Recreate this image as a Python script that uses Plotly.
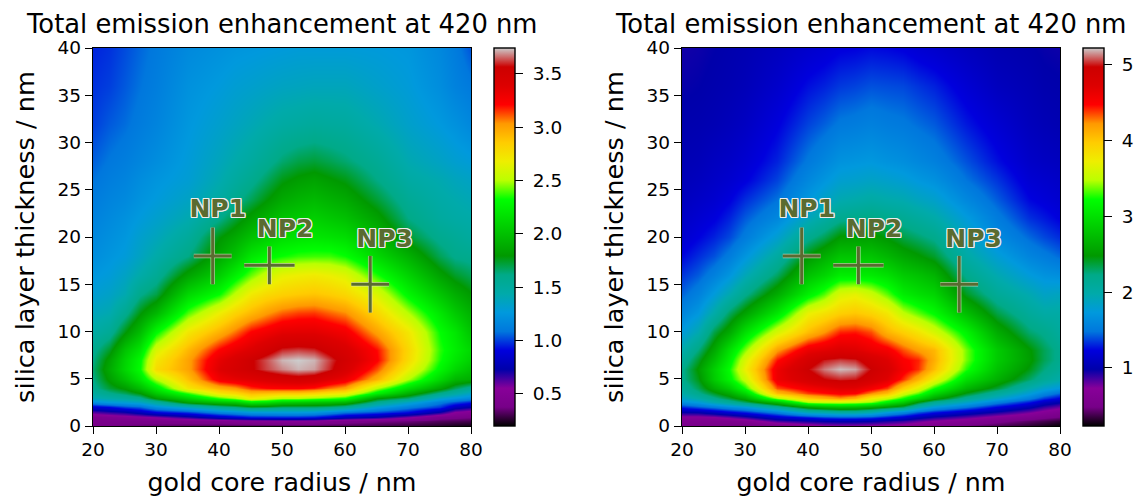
import plotly.graph_objects as go

radius = [20, 22.5, 25, 27.5, 30, 35, 40, 42.5, 45, 47.5, 50, 52.5, 55, 57.5, 60, 65, 70, 75, 77.5, 80]
thickness = [0, .5, 1, 1.5, 2, 2.5, 3, 3.5, 4, 5, 6, 7, 8, 10, 12, 14, 16, 18, 20, 22, 24, 26, 28, 32, 36, 40]

# one list per gold core radius, values run along `thickness`
left_r20 = [.38,.41,.44,.63,.85,1.2,1.4,1.5,1.58,1.62,1.65,1.62,1.58,1.47,1.38,1.3,1.25,1.2,1.17,1.14,1.11,1.08,1.05,1.0,.98,.96]
left_r22 = [.37,.41,.47,.68,.91,1.27,1.45,1.6,1.72,1.82,1.88,1.84,1.74,1.55,1.42,1.34,1.28,1.24,1.21,1.18,1.15,1.12,1.09,1.04,1.0,.98]
left_r25 = [.36,.4,.5,.72,1.0,1.3,1.5,1.68,1.82,2.0,2.12,2.1,2.02,1.78,1.58,1.42,1.35,1.28,1.25,1.22,1.18,1.15,1.12,1.07,1.04,1.02]
left_r27 = [.35,.4,.53,.8,1.05,1.35,1.58,1.8,1.98,2.2,2.32,2.3,2.2,1.98,1.78,1.6,1.45,1.36,1.32,1.27,1.23,1.2,1.16,1.11,1.08,1.06]
left_r30 = [.34,.4,.57,.91,1.2,1.5,1.82,2.05,2.22,2.5,2.78,2.72,2.6,2.3,1.95,1.7,1.55,1.45,1.38,1.32,1.27,1.24,1.2,1.15,1.12,1.1]
left_r35 = [.32,.42,.68,1.0,1.36,1.85,2.1,2.38,2.72,2.9,3.0,3.0,2.93,2.72,2.4,2.12,1.85,1.62,1.52,1.42,1.35,1.3,1.28,1.25,1.22,1.18]
left_r40 = [.3,.45,.82,1.15,1.55,2.0,2.37,2.72,2.95,3.28,3.38,3.34,3.22,2.95,2.68,2.32,2.07,1.88,1.78,1.6,1.48,1.42,1.38,1.32,1.27,1.22]
left_r42 = [.3,.47,.88,1.2,1.62,2.05,2.48,2.8,3.02,3.34,3.47,3.44,3.32,3.08,2.82,2.52,2.25,2.02,1.88,1.72,1.58,1.5,1.44,1.36,1.3,1.24]
left_r45 = [.3,.48,.94,1.26,1.72,2.22,2.69,2.92,3.15,3.38,3.55,3.55,3.4,3.22,2.93,2.7,2.42,2.2,2.0,1.84,1.68,1.58,1.5,1.4,1.32,1.25]
left_r47 = [.3,.49,.95,1.27,1.7,2.18,2.6,2.9,3.2,3.43,3.62,3.63,3.5,3.28,3.02,2.78,2.55,2.28,2.07,1.93,1.78,1.67,1.57,1.44,1.34,1.26]
left_r50 = [.3,.5,.96,1.27,1.65,2.08,2.5,2.87,3.22,3.47,3.68,3.72,3.6,3.35,3.1,2.83,2.65,2.33,2.15,2.02,1.88,1.77,1.65,1.48,1.36,1.27]
left_r52 = [.3,.5,.96,1.27,1.65,2.05,2.5,2.87,3.22,3.5,3.72,3.74,3.62,3.36,3.14,2.86,2.68,2.37,2.18,2.05,1.93,1.82,1.7,1.5,1.37,1.28]
left_r55 = [.3,.49,.94,1.25,1.65,2.02,2.45,2.82,3.18,3.47,3.7,3.72,3.6,3.36,3.15,2.88,2.7,2.38,2.2,2.08,1.96,1.85,1.72,1.52,1.38,1.28]
left_r57 = [.3,.45,.88,1.18,1.62,2.0,2.4,2.75,3.08,3.38,3.6,3.62,3.52,3.32,3.1,2.85,2.67,2.38,2.18,2.04,1.92,1.81,1.69,1.51,1.38,1.28]
left_r60 = [.3,.42,.8,1.1,1.55,1.95,2.33,2.69,3.0,3.3,3.45,3.5,3.44,3.27,3.05,2.8,2.62,2.33,2.15,2.0,1.88,1.77,1.65,1.5,1.38,1.28]
left_r65 = [.29,.38,.72,1.02,1.28,1.58,1.82,2.25,2.5,2.95,3.12,3.22,3.2,3.0,2.8,2.6,2.35,2.12,1.96,1.84,1.72,1.62,1.55,1.42,1.33,1.27]
left_r70 = [.27,.36,.58,.92,1.12,1.35,1.65,1.92,2.15,2.5,2.68,2.78,2.8,2.72,2.5,2.28,2.1,1.92,1.73,1.62,1.55,1.48,1.42,1.33,1.28,1.25]
left_r75 = [.25,.32,.42,.72,.98,1.12,1.33,1.6,1.85,2.12,2.28,2.34,2.36,2.32,2.2,2.02,1.84,1.68,1.58,1.5,1.46,1.42,1.35,1.26,1.2,1.17]
left_r77 = [.23,.31,.4,.55,.8,1.03,1.24,1.48,1.68,1.95,2.12,2.2,2.24,2.2,2.05,1.9,1.74,1.6,1.54,1.47,1.43,1.38,1.31,1.22,1.14,1.11]
left_r80 = [.22,.3,.38,.5,.72,.95,1.17,1.35,1.55,1.9,2.0,2.08,2.12,2.02,1.92,1.8,1.68,1.58,1.5,1.45,1.4,1.35,1.28,1.17,1.1,1.03]

right_r20 = [.55,.6,.7,.98,1.3,1.65,1.85,2.0,2.1,2.2,2.2,2.1,1.98,1.75,1.58,1.44,1.34,1.24,1.16,1.12,1.08,1.05,1.03,1.0,.97,.95]
right_r22 = [.52,.58,.7,1.0,1.4,1.75,2.0,2.2,2.32,2.44,2.5,2.4,2.25,1.95,1.72,1.55,1.42,1.32,1.23,1.17,1.12,1.08,1.05,1.01,.98,.96]
right_r25 = [.48,.56,.73,1.1,1.5,1.95,2.2,2.42,2.62,2.85,2.88,2.75,2.6,2.35,2.0,1.75,1.55,1.4,1.3,1.22,1.16,1.12,1.09,1.03,1.0,.98]
right_r27 = [.46,.56,.8,1.2,1.62,2.1,2.38,2.62,2.85,3.15,3.22,3.12,3.0,2.6,2.3,1.95,1.7,1.52,1.38,1.3,1.22,1.16,1.12,1.06,1.02,1.0]
right_r30 = [.44,.6,.9,1.3,1.72,2.3,2.62,2.95,3.25,3.55,3.72,3.62,3.4,3.0,2.55,2.2,1.92,1.7,1.52,1.42,1.32,1.22,1.17,1.1,1.05,1.02]
right_r35 = [.5,.85,1.15,1.55,2.1,2.75,3.45,4.05,4.35,4.6,4.6,4.45,4.2,3.6,3.05,2.62,2.3,2.05,1.8,1.6,1.47,1.37,1.3,1.22,1.14,1.08]
right_r40 = [.62,.95,1.3,1.92,2.55,3.45,3.98,4.38,4.55,4.85,4.97,4.85,4.62,4.05,3.7,3.12,2.78,2.48,2.18,1.9,1.72,1.6,1.5,1.37,1.26,1.15]
right_r42 = [.7,.98,1.38,1.97,2.68,3.52,4.1,4.45,4.62,4.97,5.12,5.0,4.68,4.22,3.82,3.33,2.92,2.64,2.32,2.04,1.84,1.7,1.59,1.43,1.3,1.18]
right_r45 = [.72,1.0,1.42,2.05,2.75,3.55,4.22,4.52,4.7,5.02,5.2,5.05,4.75,4.42,3.95,3.62,3.1,2.8,2.5,2.18,1.95,1.8,1.68,1.5,1.35,1.22]
right_r47 = [.72,1.0,1.42,2.05,2.72,3.5,4.1,4.5,4.68,5.0,5.17,5.02,4.72,4.44,4.0,3.68,3.1,2.8,2.52,2.22,1.98,1.82,1.7,1.52,1.37,1.23]
right_r50 = [.7,.98,1.38,1.95,2.6,3.4,3.75,4.25,4.55,4.85,4.97,4.85,4.62,4.35,3.92,3.55,3.08,2.8,2.53,2.25,2.02,1.85,1.72,1.55,1.4,1.25]
right_r52 = [.68,.93,1.28,1.75,2.45,3.1,3.55,4.05,4.38,4.7,4.8,4.72,4.55,4.1,3.78,3.35,3.0,2.7,2.46,2.2,1.98,1.82,1.68,1.52,1.39,1.24]
right_r55 = [.65,.88,1.18,1.6,2.3,2.85,3.25,3.6,3.95,4.4,4.55,4.5,4.35,3.95,3.5,3.1,2.85,2.58,2.35,2.15,1.95,1.78,1.65,1.5,1.38,1.22]
right_r57 = [.6,.8,1.05,1.42,1.95,2.45,2.95,3.35,3.65,4.1,4.4,4.42,4.2,3.8,3.35,3.0,2.78,2.5,2.28,2.08,1.88,1.72,1.6,1.46,1.34,1.18]
right_r60 = [.55,.72,.95,1.28,1.72,2.15,2.6,2.95,3.25,3.72,4.05,4.12,4.08,3.6,3.2,2.92,2.68,2.4,2.2,2.0,1.82,1.67,1.55,1.42,1.3,1.15]
right_r65 = [.45,.62,.82,1.1,1.48,1.85,2.15,2.45,2.7,3.0,3.28,3.38,3.38,3.15,2.75,2.42,2.2,2.02,1.88,1.75,1.6,1.48,1.4,1.28,1.18,1.08]
right_r70 = [.38,.52,.68,.95,1.22,1.55,1.85,2.1,2.38,2.65,2.78,2.85,2.85,2.62,2.35,2.12,1.95,1.78,1.62,1.52,1.42,1.34,1.26,1.17,1.08,1.02]
right_r75 = [.32,.42,.58,.78,1.02,1.28,1.55,1.78,1.98,2.3,2.45,2.52,2.5,2.28,2.1,1.95,1.75,1.58,1.45,1.33,1.24,1.18,1.13,1.07,1.03,.99]
right_r77 = [.28,.38,.52,.68,.88,1.1,1.35,1.6,1.82,2.12,2.25,2.32,2.32,2.2,2.02,1.85,1.68,1.52,1.38,1.28,1.2,1.15,1.1,1.04,1.0,.97]
right_r80 = [.24,.33,.47,.6,.78,1.0,1.22,1.45,1.72,2.0,2.12,2.18,2.18,2.08,2.02,1.88,1.65,1.45,1.32,1.22,1.16,1.12,1.08,1.02,.99,.96]

left_columns = [left_r20, left_r22, left_r25, left_r27, left_r30, left_r35, left_r40, left_r42, left_r45, left_r47,
                left_r50, left_r52, left_r55, left_r57, left_r60, left_r65, left_r70, left_r75, left_r77, left_r80]
right_columns = [right_r20, right_r22, right_r25, right_r27, right_r30, right_r35, right_r40, right_r42, right_r45, right_r47,
                 right_r50, right_r52, right_r55, right_r57, right_r60, right_r65, right_r70, right_r75, right_r77, right_r80]
left_values = [list(row) for row in zip(*left_columns)]
right_values = [list(row) for row in zip(*right_columns)]

np_labels = ["NP1", "NP2", "NP3"]
np_radius = [39, 48, 64]
np_thickness = [18, 17, 15]
np_radius_err = [3, 4, 3]
np_thickness_err = [3, 2, 3]
label_x = [39.8, 50.5, 66.3]
label_y = [22.8, 20.7, 19.6]

left_ticks = [0.5, 1.0, 1.5, 2.0, 2.5, 3.0, 3.5]
right_ticks = [1, 2, 3, 4, 5]

nipy_spectral = [
    [0.00, "rgb(0,0,0)"], [0.05, "rgb(119,0,136)"], [0.10, "rgb(136,0,153)"],
    [0.15, "rgb(0,0,170)"], [0.20, "rgb(0,0,221)"], [0.25, "rgb(0,119,221)"],
    [0.30, "rgb(0,153,221)"], [0.35, "rgb(0,170,170)"], [0.40, "rgb(0,170,136)"],
    [0.45, "rgb(0,153,0)"], [0.50, "rgb(0,187,0)"], [0.55, "rgb(0,221,0)"],
    [0.60, "rgb(0,255,0)"], [0.65, "rgb(187,255,0)"], [0.70, "rgb(238,238,0)"],
    [0.75, "rgb(255,204,0)"], [0.80, "rgb(255,153,0)"], [0.85, "rgb(255,0,0)"],
    [0.90, "rgb(221,0,0)"], [0.95, "rgb(204,0,0)"], [1.00, "rgb(204,204,204)"],
]

W, H = 1139, 497
OLIVE = "#5a6b30"
FONT = "DejaVu Sans"
TITLE = "Total emission enhancement at 420 nm"
fig = go.Figure()


def panel(idx, z, zmin, zmax, ticks, ax_l, ax_r, cb_l, cb_w):
    xa = "x" if idx == 1 else "x2"
    ya = "y" if idx == 1 else "y2"
    top, bot = 48, 426
    fig.add_trace(go.Heatmap(
        x=radius, y=thickness, z=z, xaxis=xa, yaxis=ya, zmin=zmin, zmax=zmax,
        zsmooth="best", colorscale=nipy_spectral,
        colorbar=dict(
            x=cb_l / W, xanchor="left", xpad=0, ypad=0, y=1 - top / H, yanchor="top",
            len=(bot - top) / H, lenmode="fraction", thickness=cb_w, thicknessmode="pixels",
            outlinecolor="black", outlinewidth=1.4, tickvals=ticks,
            ticktext=[("\u00a0" + f"{t:.1f}") if idx == 1 else ("\u00a0" + str(t)) for t in ticks],
            ticks="outside", ticklen=8, tickwidth=1.3, tickcolor="black",
            tickfont=dict(family=FONT, size=18.5, color="black"),
        ),
    ))
    for color, thick in (("rgba(225,225,205,0.7)", 4.5), (OLIVE, 3)):
        fig.add_trace(go.Scatter(
            x=np_radius, y=np_thickness, mode="markers", xaxis=xa, yaxis=ya,
            marker=dict(size=1, opacity=0), showlegend=False, hoverinfo="skip",
            error_x=dict(type="data", array=np_radius_err, color=color, thickness=thick, width=0),
            error_y=dict(type="data", array=np_thickness_err, color=color, thickness=thick, width=0),
        ))
    fig.add_trace(go.Scatter(
        x=label_x, y=label_y, text=np_labels, mode="text", xaxis=xa, yaxis=ya,
        showlegend=False, hoverinfo="skip", textposition="middle center",
        textfont=dict(family=FONT, size=25, weight="bold", color=OLIVE,
                      shadow="1px 0 0 #eee, -1px 0 0 #eee, 0 1px 0 #eee, 0 -1px 0 #eee, 1px 1px 0 #eee, -1px -1px 0 #eee, 1px -1px 0 #eee, -1px 1px 0 #eee"),
    ))
    axis = dict(mirror=True, showline=True, linecolor="black", linewidth=1.4, ticks="outside",
                ticklen=7, tickwidth=1.3, tickcolor="black", showgrid=False, zeroline=False,
                tickfont=dict(family=FONT, size=18.5, color="black"))
    fig.update_layout({
        ("xaxis" if idx == 1 else "xaxis2"): dict(
            axis, domain=[ax_l / W, ax_r / W], range=[20, 80], tickvals=list(range(20, 81, 10)),
            anchor=ya,
            title=dict(text="gold core radius / nm", standoff=15, font=dict(family=FONT, size=25.3, color="black"))),
        ("yaxis" if idx == 1 else "yaxis2"): dict(
            axis, domain=[1 - bot / H, 1 - top / H], range=[0, 40], tickvals=list(range(0, 41, 5)),
            anchor=xa,
            title=dict(text="silica layer thickness / nm", standoff=15, font=dict(family=FONT, size=25.6, color="black"))),
    })
    fig.add_annotation(text=TITLE, xref="paper", yref="paper", x=((ax_l + ax_r) / 2 - 1) / W, y=1 - 24 / H,
                       xanchor="center", yanchor="middle", showarrow=False,
                       font=dict(family=FONT, size=25.8, color="black"))


panel(1, left_values, 0.2, 3.74, left_ticks, 93, 471, 494, 21)
panel(2, right_values, 0.235, 5.22, right_ticks, 682, 1060, 1083, 21)

fig.update_layout(width=W, height=H, autosize=False,
                  margin=dict(l=0, r=0, t=0, b=0, autoexpand=False),
                  paper_bgcolor="white", plot_bgcolor="white", showlegend=False)
fig.write_html("out.html", config={"displayModeBar": False},
               post_script="document.body.style.margin='0';")
